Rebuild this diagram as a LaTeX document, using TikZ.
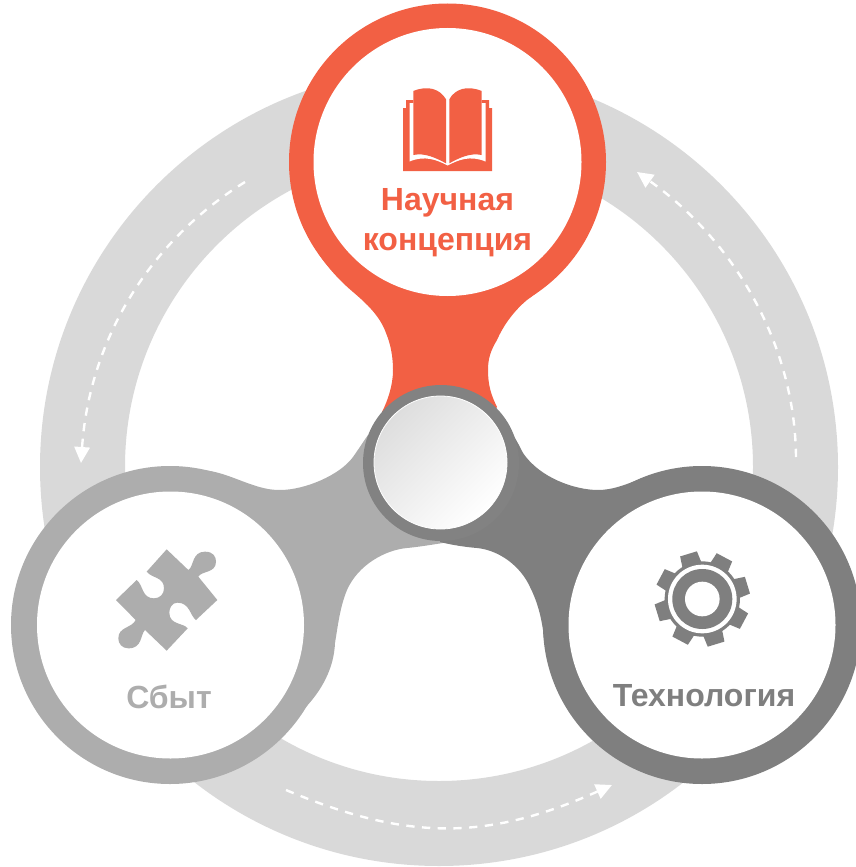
\documentclass[tikz,border=0pt]{standalone}
\usepackage{fontspec}
\setmainfont{Liberation Sans}
\usetikzlibrary{arrows.meta}
\definecolor{ringgray}{HTML}{D9D9D9}
\definecolor{coral}{HTML}{F26044}
\definecolor{lightg}{HTML}{ADADAD}
\definecolor{darkg}{HTML}{7F7F7F}
\tikzset{
  dasharrow/.style={draw=white,line width=1.8pt,dash pattern=on 6.2pt off 5.6pt,
    -{Triangle[width=11.5pt,length=12pt,fill=white]}},
  label/.style={font=\bfseries\fontsize{24}{30}\selectfont,align=center,inner sep=0pt},
}
\begin{document}
\begin{tikzpicture}[x=0.75pt,y=-0.75pt]
\useasboundingbox (0,0) rectangle (856,867);
\clip (0,0) rectangle (856,867);
% big ring
\fill[ringgray,even odd rule] (439,467) circle[radius=399] (439,467) circle[radius=314];
% arrows on the ring
\coordinate (la) at (245,182); \coordinate (lb) at (81,463);
\coordinate (ra) at (796,457); \coordinate (rb) at (637,172);
\coordinate (ba) at (286,790); \coordinate (bb) at (612,785);
\draw[dasharrow] (la) .. controls (145,244) and (89,345) .. (lb);
\draw[dasharrow] (ra) .. controls (795,343) and (733,240) .. (rb);
\draw[dasharrow] (ba) .. controls (407,841) and (487,841) .. (bb);
% connectors
\fill[coral] (318,253) .. controls (328,268) and (340,281) .. (353,292)
  .. controls (366,303) and (380,316) .. (386,333)
  .. controls (391,345) and (393,358) .. (393,370)
  .. controls (393,385) and (388,400) .. (382,412)
  -- (441,463) -- (497,407)
  .. controls (491,395) and (488,385) .. (488,370)
  .. controls (488,358) and (491,350) .. (497,340)
  .. controls (504,324) and (515,310) .. (527,300)
  .. controls (545,287) and (562,272) .. (574,255) -- (447,162) -- cycle;
\fill[lightg] (170,625) -- (203,470)
  .. controls (222,472) and (235,479) .. (253,485)
  .. controls (262,488) and (270,490) .. (280,490)
  .. controls (305,490) and (340,475) .. (353,457)
  .. controls (358,450) and (363,442) .. (368,435)
  -- (441,463) -- (443,543)
  .. controls (430,545) and (418,547) .. (407,548)
  .. controls (385,550) and (358,565) .. (347,590)
  .. controls (340,607) and (338,625) .. (335,643)
  .. controls (334,668) and (322,690) .. (305,708) -- cycle;
\fill[darkg] (702,625) -- (692,467)
  .. controls (670,469) and (655,473) .. (640,479)
  .. controls (625,485) and (612,490) .. (598,490)
  .. controls (575,490) and (540,478) .. (523,453)
  .. controls (520,447) and (517,441) .. (513,435)
  -- (441,463) -- (440,542)
  .. controls (452,545) and (465,547) .. (477,548)
  .. controls (498,550) and (520,565) .. (530,587)
  .. controls (538,603) and (541,617) .. (543,630)
  .. controls (545,650) and (549,668) .. (556,686) -- cycle;
% three discs
\fill[lightg] (170,625) circle[radius=159];
\fill[white] (170.5,625) circle[radius=133.5];
\fill[darkg] (702,625) circle[radius=159];
\fill[white] (702,625) circle[radius=133.5];
\fill[coral] (447.5,162) circle[radius=158.5];
\fill[white] (447.5,162) circle[radius=134];
% hub
\fill[darkg!98!white] (441,463) circle[radius=78];
\shade[top color=black!13,bottom color=white,shading angle=45,draw=white,line width=0.6pt]
  (440.5,462.5) circle[radius=66.5];
% book
\fill[coral] (403,108) -- (406,108) -- (406,100) -- (489,100) -- (489,108) -- (492,108)
  -- (492,171) -- (403,171) -- cycle;
\fill[white] (409.5,103) -- (413.3,103) -- (413.3,95) -- (481.7,95) -- (481.7,103) -- (485.5,103)
  -- (485.5,161.5) .. controls (470,155) and (458,160) .. (447.7,165.5)
  .. controls (437,160) and (425,155) .. (409.5,161.5) -- cycle;
\fill[coral] (413.3,91) .. controls (428,85) and (440,89) .. (446,99.3) -- (446,163.3)
  .. controls (436,158) and (425,152.5) .. (413.3,155) -- cycle;
\fill[coral] (481.7,91) .. controls (467,85) and (455,89) .. (449.3,99.3) -- (449.3,163.3)
  .. controls (459,158) and (470,152.5) .. (481.7,155) -- cycle;
% puzzle
\begin{scope}[shift={(90,530)},x=0.25pt,y=-0.25pt]
\fill[lightg] (230,58) -- (295,120)
  .. controls (312,110) and (305,65) .. (345,65)
  .. controls (370,65) and (378,80) .. (378,95)
  .. controls (378,130) and (335,122) .. (325,140)
  -- (382,210) -- (318,270)
  .. controls (300,258) and (300,218) .. (262,218)
  .. controls (245,218) and (238,235) .. (238,248)
  .. controls (238,285) and (280,278) .. (293,295)
  -- (230,362) -- (165,300)
  .. controls (150,315) and (158,355) .. (115,355)
  .. controls (95,355) and (85,340) .. (85,325)
  .. controls (85,290) and (125,295) .. (137,270)
  -- (78,210) -- (140,150)
  .. controls (160,165) and (155,205) .. (192,205)
  .. controls (210,205) and (222,192) .. (222,175)
  .. controls (222,140) and (185,145) .. (170,125) -- cycle;
\end{scope}
% gear
\begin{scope}[shift={(702.3,599)},x=0.25pt,y=-0.25pt]
\fill[darkg] (0,0) circle[radius=113];
\foreach \a in {73,28,-17,-62,-107,-152,163,118}
  \fill[darkg] (\a-16:108) -- (\a-10.5:144) -- (\a+10.5:144) -- (\a+16:108) -- cycle;
\fill[white] (0,0) circle[radius=103];
\fill[darkg] (0,0) circle[radius=90];
\fill[white] (0,0) circle[radius=52];
\end{scope}
% labels
\node[label,text=coral] (sci) at (447.5,222.5) {Научная\\[0pt]концепция};
\node[label,text=lightg] (sales) at (169,697) {Сбыт};
\node[label,text=darkg] (tech) at (704,696) {Технология};
\end{tikzpicture}
\end{document}
